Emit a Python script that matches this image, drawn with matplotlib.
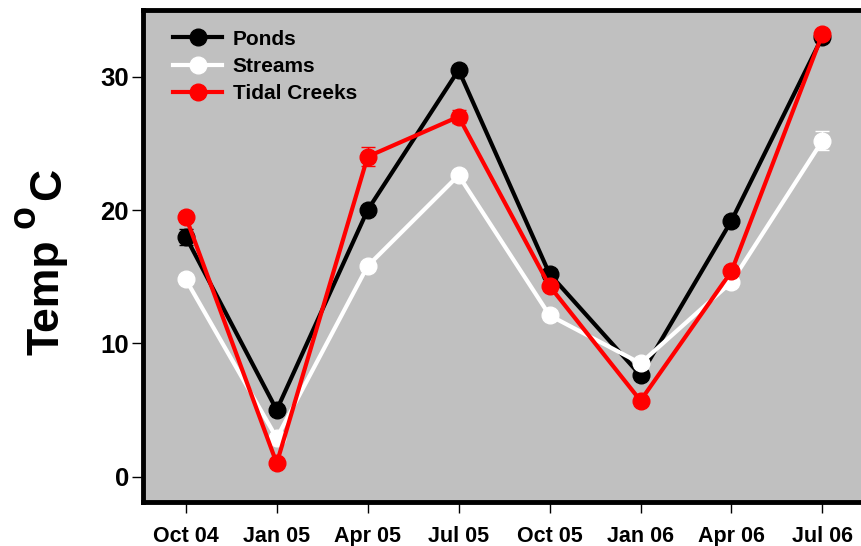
import matplotlib.pyplot as plt
from matplotlib.lines import Line2D
import numpy as np

# DATA
dates = ['Oct 04', 'Jan 05', 'Apr 05', 'Jul 05', 'Oct 05', 'Jan 06', 'Apr 06', 'Jul 06']
ponds = [18.0, 5.0, 20.0, 30.5, 15.2, 7.6, 19.2, 33.0]
ponds_err = [0.6, 0.3, 0.3, 0.3, 0.4, 0.3, 0.3, 0.4]
streams = [14.8, 2.9, 15.8, 22.6, 12.1, 8.5, 14.6, 25.2]
streams_err = [0.3, 0.3, 0.3, 0.3, 0.3, 0.3, 0.3, 0.7]
tidal = [19.5, 1.0, 24.0, 27.0, 14.3, 5.7, 15.4, 33.2]
tidal_err = [0.3, 0.2, 0.7, 0.5, 0.3, 0.2, 0.3, 0.3]

plt.rcParams['font.family'] = 'Liberation Sans'
plt.rcParams['font.weight'] = 'bold'

W, H = 861, 546
fig = plt.figure(figsize=(W / 100, H / 100), dpi=100)
ax = fig.add_axes([143 / W, 44 / H, 734 / W, 492 / H])
ax.set_facecolor('#c0c0c0')

x = np.arange(len(dates))
series = [
    ('Ponds', ponds, ponds_err, 'black'),
    ('Streams', streams, streams_err, 'white'),
    ('Tidal Creeks', tidal, tidal_err, '#ff0000'),
]
handles = []
for name, vals, err, col in series:
    ax.errorbar(x, vals, yerr=err, color=col, lw=3, marker='o',
                markersize=12, capsize=5, elinewidth=1, capthick=1)
    handles.append(Line2D([], [], color=col, lw=3, marker='o',
                          markersize=12, label=name))

ax.set_xlim(-0.47, 7.6)
ax.set_ylim(-1.9, 35)
ax.set_xticks(x)
ax.set_xticklabels(dates, fontsize=15.5, fontweight='bold')
ax.set_yticks([0, 10, 20, 30])
ax.set_yticklabels(['0', '10', '20', '30'], fontsize=18.5, fontweight='bold')
ax.tick_params(axis='x', direction='out', length=8, width=1, pad=9)
ax.tick_params(axis='y', direction='out', length=8, width=1, pad=2)

for side in ['left', 'bottom', 'top', 'right']:
    ax.spines[side].set_linewidth(3.5)

# y label: Temp, superscript o, C
def fy(py):
    return 1 - py / H

fig.text(59 / W, fy(355), 'Temp', fontsize=32, fontweight='bold',
         rotation=90, rotation_mode='anchor', ha='left', va='baseline')
fig.text(35 / W, fy(228), 'o', fontsize=27, fontweight='bold',
         rotation=90, rotation_mode='anchor', ha='left', va='baseline')
fig.text(60 / W, fy(200), 'C', fontsize=32, fontweight='bold',
         rotation=90, rotation_mode='anchor', ha='left', va='baseline')

ax.legend(handles=handles, loc='upper left', frameon=False,
          prop={'weight': 'bold', 'size': 15},
          handlelength=2.35, handletextpad=0.5, labelspacing=0.4,
          borderaxespad=0.0, bbox_to_anchor=(0.03, 0.977))

fig.savefig('out.png', dpi=100, facecolor='white')
